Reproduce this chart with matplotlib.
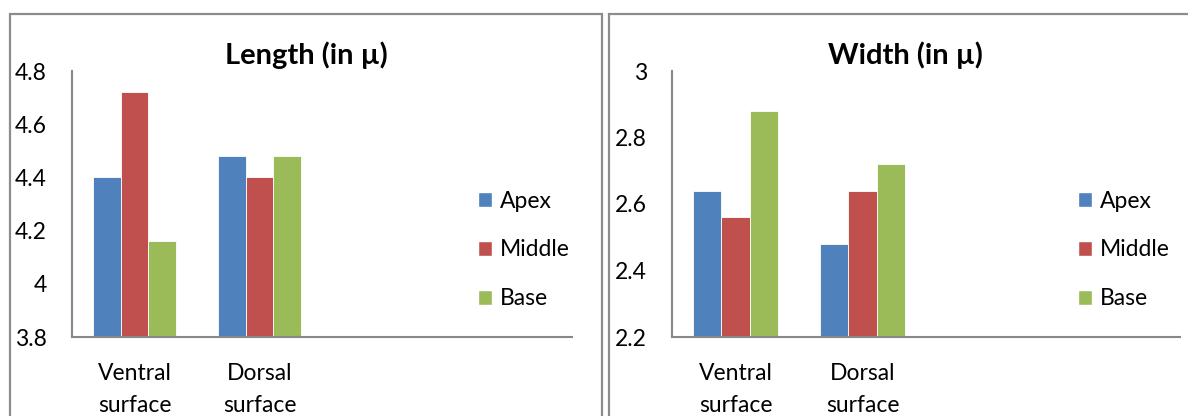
import numpy as np
import matplotlib.pyplot as plt
from matplotlib.patches import Rectangle, Patch

plt.rcParams['font.family'] = ['Lato', 'DejaVu Sans']

categories = ['Ventral\nsurface', 'Dorsal\nsurface', '', '']
series = ['Apex', 'Middle', 'Base']
colors = ['#4f81bd', '#c0504d', '#9bbb59']

length_apex = [4.4, 4.48]
length_middle = [4.72, 4.4]
length_base = [4.16, 4.48]

width_apex = [2.64, 2.48]
width_middle = [2.56, 2.64]
width_base = [2.88, 2.72]

length_ticks = [3.8, 4.0, 4.2, 4.4, 4.6, 4.8]
length_ticklabels = ['3.8', '4', '4.2', '4.4', '4.6', '4.8']
width_ticks = [2.2, 2.4, 2.6, 2.8, 3.0]
width_ticklabels = ['2.2', '2.4', '2.6', '2.8', '3']

W, H = 1188, 416
fig = plt.figure(figsize=(W / 100, H / 100), dpi=100)
fs = 16.5

# chart frames (they run off the bottom / right edge)
for x0, x1 in [(10, 602), (609, 1200)]:
    fig.patches.append(Rectangle((x0 / W, -0.1), (x1 - x0) / W, 1.1 - 14 / H,
                                 transform=fig.transFigure, fill=False,
                                 edgecolor='#8c8c8c', linewidth=1.6))


def draw_panel(left, width, data, ticks, ticklabels, title, title_x, legend_x):
    ax = fig.add_axes([left / W, 1 - 337 / H, width / W, (337 - 71) / H])
    x = np.arange(2)
    bw = 0.222
    for i, (vals, c) in enumerate(zip(data, colors)):
        ax.bar(x + (i - 1) * bw, vals, width=bw, color=c,
               edgecolor='white', linewidth=0.6, zorder=2)
    ax.set_xlim(-0.5, len(categories) - 0.5)
    ax.set_ylim(ticks[0], ticks[-1])
    ax.set_yticks(ticks)
    ax.set_yticklabels(ticklabels)
    ax.set_xticks(np.arange(len(categories)))
    ax.set_xticklabels(categories, linespacing=1.6)
    ax.tick_params(axis='both', length=0, labelsize=fs)
    ax.tick_params(axis='y', pad=18)
    ax.tick_params(axis='x', pad=19)
    for s in ['top', 'right']:
        ax.spines[s].set_visible(False)
    for s in ['left', 'bottom']:
        ax.spines[s].set_color('#888888')
        ax.spines[s].set_linewidth(1.5)
    fig.text(title_x / W, 1 - 55 / H, title, ha='center', va='center',
             fontsize=21, fontweight='bold')
    handles = [Patch(facecolor=c, edgecolor='white', label=s)
               for s, c in zip(series, colors)]
    fig.legend(handles=handles, loc='center left', frameon=False,
               bbox_to_anchor=(legend_x / W, 1 - 250 / H), fontsize=fs,
               handlelength=0.62, handleheight=0.62, handletextpad=0.35,
               labelspacing=1.22, borderpad=0, borderaxespad=0)
    return ax


draw_panel(72, 500, [length_apex, length_middle, length_base],
           length_ticks, length_ticklabels, 'Length (in µ)', 306, 478)
draw_panel(672, 508, [width_apex, width_middle, width_base],
           width_ticks, width_ticklabels, 'Width (in µ)', 905, 1078)

fig.savefig('out.png', dpi=100)
